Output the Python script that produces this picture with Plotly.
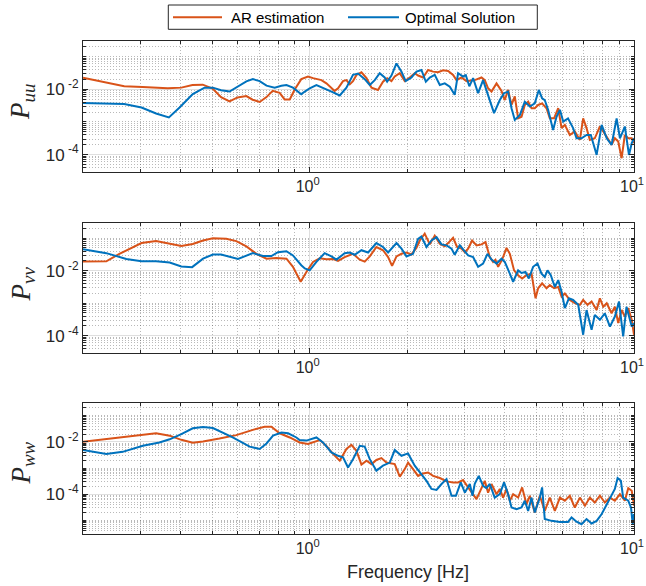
import numpy as np
import plotly.graph_objects as go

# ---------------- spectra (frequency in Hz, PSD in dB = 10*log10(P)) ----------------
# P_uu
f_uu_ar = [0.200, 0.268, 0.305, 0.365, 0.402, 0.435, 0.468, 0.502, 0.533, 0.566,
           0.599, 0.638, 0.667, 0.701, 0.736, 0.769, 0.808, 0.837, 0.868, 0.899,
           0.942, 0.988, 1.024, 1.087, 1.126, 1.167, 1.194, 1.223, 1.267, 1.298,
           1.329, 1.360, 1.394, 1.444, 1.497, 1.551, 1.624, 1.683, 1.733, 1.787,
           1.829, 1.896, 1.964, 2.035, 2.108, 2.159, 2.237, 2.318, 2.401, 2.489,
           2.578, 2.672, 2.768, 2.836, 2.938, 3.045, 3.117, 3.228, 3.387, 3.466,
           3.549, 3.636, 3.768, 3.904, 3.995, 4.091, 4.191, 4.289, 4.393, 4.500,
           4.605, 4.716, 4.831, 4.943, 5.063, 5.208, 5.373, 5.500, 5.669, 5.839,
           5.98, 6.12, 6.34, 6.57, 6.81, 6.97, 7.14, 7.31, 7.57, 7.85,
           8.04, 8.24, 8.53, 8.73, 8.94, 9.16, 9.37, 9.60, 9.84, 10.0]
db_uu_ar = [-16.5, -19.1, -19.3, -19.7, -19.5, -18.7, -18.6, -19.8, -22.4, -23.7,
            -22.5, -22.1, -23.2, -23.9, -22.4, -20.5, -21.1, -23.1, -23.1, -20.1,
            -16.9, -16.1, -16.6, -17.2, -18.2, -19.7, -20.5, -19.7, -17.5, -17.2,
            -18.5, -17.5, -15.6, -14.8, -16.6, -19.5, -20.2, -17.7, -16.6, -17.5,
            -16.1, -15.1, -17.5, -16.4, -15.1, -15.8, -16.4, -14.1, -14.6, -14.8,
            -14.2, -14.4, -15.6, -17.2, -16.4, -17.5, -17.3, -17.2, -16.4, -17.2,
            -19.7, -20.7, -18.2, -20.5, -23.3, -20.2, -24.8, -22.2, -28.9, -28.4,
            -24.8, -23.8, -25.8, -25.8, -24.8, -24.3, -25.8, -28.9, -28.9, -25.8,
            -31.9, -30.9, -34.0, -32.9, -35.5, -28.9, -31.9, -35.5, -35.0, -31.4,
            -32.9, -34.5, -37.0, -35.0, -36.0, -41.1, -34.0, -35.0, -35.0, -36.5]
f_uu_opt = [0.200, 0.268, 0.303, 0.336, 0.368, 0.397, 0.436, 0.474, 0.503, 0.533,
            0.566, 0.594, 0.638, 0.668, 0.701, 0.736, 0.780, 0.818, 0.848, 0.888,
            0.942, 0.966, 1.000, 1.049, 1.099, 1.167, 1.238, 1.298, 1.360, 1.410,
            1.478, 1.532, 1.587, 1.644, 1.703, 1.733, 1.787, 1.852, 1.919, 1.977,
            2.060, 2.135, 2.211, 2.281, 2.346, 2.430, 2.519, 2.609, 2.704, 2.800,
            2.868, 2.972, 3.030, 3.106, 3.191, 3.306, 3.425, 3.549, 3.702, 3.857,
            3.975, 4.091, 4.191, 4.289, 4.446, 4.605, 4.773, 4.943, 5.088, 5.208,
            5.307, 5.434, 5.630, 5.770, 5.910, 6.050, 6.260, 6.490, 6.650, 6.890,
            7.140, 7.360, 7.670, 7.950, 8.240, 8.530, 8.840, 9.050, 9.370, 9.650,
            9.840, 10.00]
db_uu_opt = [-24.2, -24.5, -25.6, -27.4, -28.6, -25.6, -21.5, -19.5, -19.5, -20.3,
             -20.7, -19.5, -17.6, -16.9, -17.5, -18.9, -19.5, -18.9, -18.7, -19.5,
             -21.5, -20.7, -19.7, -18.7, -19.5, -20.7, -21.9, -19.5, -15.6, -15.2,
             -16.9, -18.7, -17.2, -15.1, -16.4, -17.7, -15.8, -12.1, -14.6, -17.5,
             -16.4, -14.6, -14.1, -17.7, -16.4, -15.6, -18.7, -18.2, -19.2, -21.7,
             -15.1, -16.1, -15.7, -19.1, -16.6, -21.2, -17.2, -21.7, -27.3, -23.3,
             -21.2, -20.7, -25.8, -29.4, -27.9, -23.8, -25.3, -24.3, -20.2, -22.8,
             -23.3, -26.3, -32.5, -28.4, -26.3, -29.9, -28.9, -31.9, -35.0, -35.0,
             -34.0, -34.0, -40.1, -30.9, -35.0, -37.0, -28.9, -35.0, -31.4, -40.1,
             -36.5, -35.0]

# P_vv
f_vv_ar = [0.200, 0.236, 0.259, 0.303, 0.336, 0.370, 0.402, 0.436, 0.469, 0.503,
           0.553, 0.594, 0.638, 0.685, 0.736, 0.789, 0.848, 0.888, 0.938, 0.977,
           1.024, 1.074, 1.126, 1.180, 1.223, 1.282, 1.360, 1.427, 1.478, 1.532,
           1.606, 1.683, 1.745, 1.795, 1.852, 1.919, 1.988, 2.060, 2.135, 2.185,
           2.263, 2.346, 2.430, 2.519, 2.609, 2.672, 2.768, 2.848, 2.938, 3.010,
           3.080, 3.168, 3.269, 3.387, 3.485, 3.592, 3.677, 3.739, 3.811, 3.920,
           4.046, 4.141, 4.268, 4.393, 4.519, 4.663, 4.831, 4.971, 5.063, 5.208,
           5.373, 5.500, 5.669, 5.839, 5.980, 6.120, 6.340, 6.570, 6.810, 6.970,
           7.190, 7.400, 7.670, 7.850, 8.040, 8.240, 8.530, 8.730, 8.940, 9.160,
           9.370, 9.600, 9.840, 10.00]
db_vv_ar = [-17.2, -17.1, -14.8, -11.5, -10.9, -11.7, -12.4, -11.8, -10.7, -10.0,
            -10.2, -10.9, -12.5, -14.8, -16.3, -16.1, -16.3, -18.8, -23.4, -20.4,
            -17.3, -16.2, -16.5, -16.4, -17.0, -15.8, -14.8, -16.6, -17.2, -15.6,
            -12.7, -13.7, -15.8, -18.5, -15.6, -14.8, -14.4, -15.0, -12.9, -10.7,
            -8.6, -11.9, -9.2, -11.7, -12.5, -11.5, -9.9, -12.7, -13.2, -14.3,
            -13.2, -10.7, -12.2, -11.9, -11.2, -15.8, -17.3, -16.6, -18.8, -16.6,
            -13.0, -14.8, -19.9, -21.4, -22.4, -21.4, -20.9, -28.5, -25.4, -23.9,
            -25.4, -24.4, -25.4, -25.0, -28.0, -27.0, -29.0, -30.0, -30.5, -29.0,
            -30.5, -29.5, -32.1, -28.5, -31.1, -30.0, -33.1, -31.1, -36.1, -32.1,
            -34.1, -31.5, -35.1, -39.7]
f_vv_opt = [0.200, 0.236, 0.272, 0.303, 0.336, 0.370, 0.402, 0.434, 0.469, 0.503,
            0.533, 0.601, 0.668, 0.718, 0.762, 0.798, 0.848, 0.888, 0.942, 0.966,
            1.000, 1.049, 1.112, 1.167, 1.209, 1.282, 1.329, 1.376, 1.444, 1.514,
            1.606, 1.683, 1.745, 1.852, 1.919, 1.988, 2.083, 2.159, 2.211, 2.292,
            2.374, 2.461, 2.550, 2.642, 2.737, 2.800, 2.903, 3.010, 3.080, 3.191,
            3.306, 3.425, 3.534, 3.636, 3.768, 3.904, 3.995, 4.141, 4.239, 4.393,
            4.500, 4.627, 4.739, 4.886, 5.041, 5.186, 5.307, 5.411, 5.539, 5.700,
            5.839, 5.980, 6.120, 6.300, 6.490, 6.730, 6.970, 7.140, 7.400, 7.570,
            7.850, 8.130, 8.430, 8.730, 8.990, 9.260, 9.480, 9.840, 10.00]
db_vv_opt = [-13.4, -14.6, -16.4, -17.1, -17.1, -17.5, -18.7, -18.9, -16.3, -15.0,
             -15.0, -16.4, -14.6, -15.5, -15.5, -14.3, -14.0, -15.3, -18.3, -19.3,
             -19.9, -17.3, -14.6, -15.6, -16.6, -14.6, -14.4, -15.1, -13.7, -14.4,
             -11.5, -12.7, -14.4, -11.5, -13.2, -15.6, -14.8, -10.2, -9.5, -12.7,
             -10.7, -9.7, -11.9, -12.2, -13.2, -15.1, -12.2, -14.1, -15.3, -15.8,
             -18.8, -17.8, -14.8, -16.6, -17.8, -16.3, -17.3, -20.9, -23.4, -19.9,
             -20.7, -20.4, -22.4, -18.8, -17.8, -20.9, -21.9, -19.9, -21.4, -25.0,
             -22.9, -26.5, -31.5, -28.5, -29.0, -30.5, -39.7, -32.1, -38.2, -33.6,
             -35.1, -33.1, -37.2, -34.1, -29.5, -40.2, -31.1, -37.2, -36.1]

# P_ww
f_ww_ar = [0.200, 0.241, 0.278, 0.306, 0.336, 0.370, 0.402, 0.436, 0.469, 0.527,
           0.594, 0.668, 0.726, 0.762, 0.808, 0.868, 0.931, 0.988, 1.036, 1.074,
           1.126, 1.180, 1.238, 1.298, 1.345, 1.394, 1.444, 1.497, 1.551, 1.606,
           1.664, 1.725, 1.829, 1.896, 1.964, 2.011, 2.083, 2.159, 2.237, 2.318,
           2.401, 2.519, 2.642, 2.768, 2.868, 2.972, 3.080, 3.155, 3.269, 3.387,
           3.466, 3.549, 3.636, 3.768, 3.857, 3.948, 4.046, 4.141, 4.239, 4.393,
           4.519, 4.663, 4.773, 4.943, 5.124, 5.307, 5.500, 5.700, 5.910, 6.120,
           6.340, 6.570, 6.810, 7.060, 7.310, 7.570, 7.850, 8.130, 8.430, 8.730,
           9.050, 9.370, 9.600, 9.840, 10.00]
db_ww_ar = [-19.9, -18.7, -18.0, -17.1, -16.7, -17.6, -19.2, -20.3, -19.8, -18.7,
            -17.4, -15.4, -14.2, -14.2, -16.7, -18.3, -20.2, -20.8, -19.8, -19.3,
            -21.5, -24.6, -27.2, -22.7, -21.1, -23.4, -28.7, -27.2, -28.5, -26.9,
            -26.2, -27.9, -28.5, -33.3, -30.4, -27.9, -30.4, -33.0, -32.1, -31.7,
            -33.0, -33.8, -35.1, -35.5, -35.5, -34.6, -37.4, -39.4, -41.9, -37.7,
            -34.9, -39.4, -36.1, -40.0, -38.0, -41.3, -38.0, -42.5, -40.0, -41.3,
            -37.4, -43.8, -40.6, -47.0, -40.6, -46.4, -41.3, -46.4, -41.3, -42.5,
            -40.6, -45.1, -41.3, -44.4, -41.3, -43.2, -40.6, -43.2, -41.3, -42.5,
            -40.0, -42.5, -37.7, -38.7, -44.4]
f_ww_opt = [0.200, 0.236, 0.265, 0.306, 0.344, 0.370, 0.402, 0.436, 0.469, 0.503,
            0.579, 0.653, 0.701, 0.736, 0.771, 0.818, 0.858, 0.910, 0.931, 0.977,
            1.049, 1.099, 1.167, 1.223, 1.267, 1.313, 1.360, 1.427, 1.478, 1.532,
            1.606, 1.683, 1.766, 1.829, 1.919, 2.011, 2.108, 2.185, 2.292, 2.374,
            2.461, 2.550, 2.642, 2.737, 2.824, 2.923, 3.010, 3.117, 3.177, 3.228,
            3.322, 3.425, 3.506, 3.592, 3.720, 3.857, 3.975, 4.091, 4.191, 4.343,
            4.500, 4.605, 4.716, 4.831, 4.943, 5.124, 5.208, 5.307, 5.567, 5.910,
            6.260, 6.420, 6.650, 6.890, 7.140, 7.400, 7.670, 7.950, 8.240, 8.530,
            8.730, 8.900, 9.110, 9.260, 9.600, 9.790, 9.910, 10.00]
db_ww_opt = [-23.1, -24.6, -23.8, -21.5, -20.2, -19.0, -17.0, -14.8, -14.3, -14.7,
             -18.3, -21.8, -22.7, -20.6, -17.6, -16.4, -16.7, -18.3, -19.3, -19.5,
             -18.3, -20.2, -24.0, -25.3, -25.9, -29.8, -26.6, -21.5, -21.8, -26.6,
             -31.0, -29.1, -27.9, -23.1, -25.3, -24.4, -29.1, -31.7, -34.9, -38.0,
             -38.4, -36.1, -34.2, -40.6, -40.6, -35.5, -39.4, -36.1, -40.6, -36.0,
             -33.0, -36.8, -37.7, -36.1, -41.3, -40.0, -35.5, -40.0, -45.1, -45.7,
             -45.1, -42.5, -46.4, -41.3, -47.0, -41.3, -37.4, -49.5, -50.2, -50.6,
             -50.6, -48.9, -50.5, -51.5, -49.5, -51.2, -50.2, -47.6, -43.8, -40.6,
             -38.0, -33.8, -34.9, -41.3, -42.5, -45.1, -51.5, -47.6]

series_names = ["AR estimation", "Optimal Solution"]
y_tick_vals = [1e-4, 1e-2]
y_tick_text = ["10<sup> -4</sup>", "10<sup> -2</sup>"]
x_tick_vals = [1, 10]
x_tick_text = ["10<sup>0</sup>", "10<sup>1</sup>"]

# ---------------- figure geometry ----------------
W, H = 646, 586
ML, MR, MT, MB = 83, 12, 41, 52
PW, PH = W - ML - MR, H - MT - MB


def px_x(px):
    return (px - ML) / PW


def px_y(py):
    return (H - MB - py) / PH


def clamp01(v):
    return min(1.0, max(0.0, v))


C_AR = "#D95319"
C_OPT = "#0072BD"
AXC = "#262626"
FONT = "Liberation Sans"

x_minor = [0.2, 0.3, 0.4, 0.5, 0.6, 0.7, 0.8, 0.9, 2, 3, 4, 5, 6, 7, 8, 9]
y_minor = [m * 10.0 ** k for k in range(-7, 0) for m in range(1, 10)
           if not (m == 1 and k in (-4, -2))]

panels = [
    dict(sub="uu", fa=f_uu_ar, da=db_uu_ar, fo=f_uu_opt, do=db_uu_opt,
         top=41.0, bot=171.7, ymin=3e-5, lab_y=102),
    dict(sub="vv", fa=f_vv_ar, da=db_vv_ar, fo=f_vv_opt, do=db_vv_opt,
         top=222.7, bot=352.7, ymin=3e-5, lab_y=284.5),
    dict(sub="ww", fa=f_ww_ar, da=db_ww_ar, fo=f_ww_opt, do=db_ww_opt,
         top=403.3, bot=534.0, ymin=3e-6, lab_y=463.5),
]

fig = go.Figure()
annotations = []
layout_axes = {}

for i, p in enumerate(panels, start=1):
    xa = "x" if i == 1 else f"x{i}"
    ya = "y" if i == 1 else f"y{i}"
    for f, db, name, col in ((p["fa"], p["da"], series_names[0], C_AR),
                             (p["fo"], p["do"], series_names[1], C_OPT)):
        fig.add_trace(go.Scatter(
            x=f, y=10 ** (np.array(db) / 10.0), mode="lines", name=name,
            line=dict(color=col, width=2), showlegend=False,
            xaxis=xa, yaxis=ya))

    common = dict(
        showline=True, linecolor=AXC, linewidth=1, mirror="allticks",
        ticks="inside", ticklen=5, tickcolor=AXC, tickwidth=1,
        tickfont=dict(family=FONT, size=17, color=AXC),
        showgrid=True, gridcolor="rgba(38,38,38,0.15)", gridwidth=1,
        zeroline=False, tickmode="array", ticklabeloverflow="allow",
        automargin=False,
    )
    minor_common = dict(ticks="inside", ticklen=3, tickcolor=AXC, tickwidth=1,
                        showgrid=True, gridcolor="rgba(38,38,38,0.32)",
                        griddash="1px,2px", gridwidth=1, tickmode="array")
    layout_axes["xaxis" if i == 1 else f"xaxis{i}"] = dict(
        common, type="log", range=[np.log10(0.2), 1.0],
        tickvals=x_tick_vals, ticktext=x_tick_text,
        tickfont=dict(family=FONT, size=16, color=AXC), ticklabelshift=-2,
        anchor=ya, domain=[0, 1],
        minor=dict(minor_common, tickvals=x_minor))
    layout_axes["yaxis" if i == 1 else f"yaxis{i}"] = dict(
        common, type="log", range=[np.log10(p["ymin"]), np.log10(0.3)],
        tickvals=y_tick_vals, ticktext=y_tick_text,
        anchor=xa, domain=[clamp01(px_y(p["bot"])), clamp01(px_y(p["top"]))],
        minor=dict(minor_common, tickvals=y_minor))

    annotations.append(dict(
        text=f"<i>P</i><sub><i>{p['sub']}</i></sub>",
        xref="paper", yref="paper", x=px_x(22), y=px_y(p["lab_y"]),
        xanchor="center", yanchor="middle", textangle=-90, showarrow=False,
        font=dict(family="Liberation Serif", size=27, color=AXC)))

# x-axis title
annotations.append(dict(
    text="Frequency [Hz]", xref="paper", yref="paper",
    x=px_x(407.5), y=px_y(572), xanchor="center", yanchor="middle",
    showarrow=False, font=dict(family=FONT, size=18, color=AXC)))

# legend box
shapes = [
    dict(type="rect", xref="paper", yref="paper",
         x0=px_x(168.3), x1=px_x(537.3), y0=px_y(29.3), y1=px_y(5),
         line=dict(color=AXC, width=1), fillcolor="white", layer="above"),
    dict(type="line", xref="paper", yref="paper",
         x0=px_x(173), x1=px_x(222), y0=px_y(17.3), y1=px_y(17.3),
         line=dict(color=C_AR, width=2), layer="above"),
    dict(type="line", xref="paper", yref="paper",
         x0=px_x(348), x1=px_x(399), y0=px_y(17.3), y1=px_y(17.3),
         line=dict(color=C_OPT, width=2), layer="above"),
]
for name, xpos in ((series_names[0], 228.5), (series_names[1], 402.5)):
    annotations.append(dict(
        text=name, xref="paper", yref="paper", x=px_x(xpos), y=px_y(17.8),
        xanchor="left", yanchor="middle", showarrow=False,
        font=dict(family=FONT, size=15, color="#000000")))

fig.update_layout(
    width=W, height=H, autosize=False,
    margin=dict(l=ML, r=MR, t=MT, b=MB, pad=0, autoexpand=False),
    paper_bgcolor="white", plot_bgcolor="white",
    showlegend=False, annotations=annotations, shapes=shapes,
    **layout_axes,
)

fig.write_html("out.html")
